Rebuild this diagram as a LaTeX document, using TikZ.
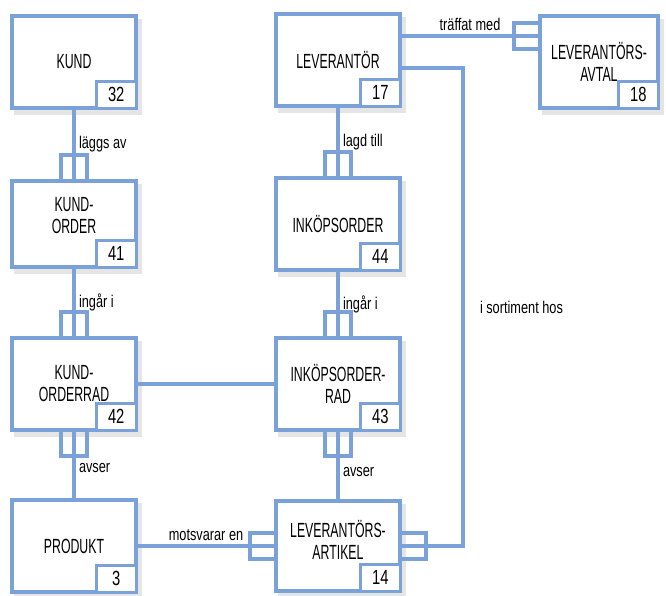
\documentclass[tikz,border=0pt]{standalone}
\usepackage{fontspec}
\setmainfont{Liberation Sans}[FakeStretch=0.6]
\newfontfamily\relfont{Liberation Sans}[FakeStretch=0.75]
\newfontfamily\numfont{Liberation Sans}[FakeStretch=0.72]
\definecolor{boxblue}{RGB}{122,162,216}

\tikzset{
  entity/.style={draw=boxblue, line width=4pt, fill=white,
    minimum width=124pt, minimum height=92pt, align=center,
    font=\fontsize{20.5}{22}\selectfont,
    preaction={draw=black!10, fill=black!10,
      transform canvas={xshift=4pt, yshift=-5pt}}},
  numbox/.style={draw=boxblue, line width=3.5pt, fill=white,
    minimum width=40pt, minimum height=27pt, inner sep=0pt,
    font=\numfont\fontsize{20.5}{21}\selectfont},
  link/.style={draw=boxblue, line width=4pt},
  rel/.style={font=\relfont\fontsize{17}{18}\selectfont, inner sep=3pt},
  crow/.pic={\draw[link] (-13,0) -- (-13,-24) -- (13,-24) -- (13,0);}
}

\begin{document}
\begin{tikzpicture}[x=1pt, y=-1pt]
\useasboundingbox (0,0) rectangle (666,595);

% entities
\node[entity] (kund) at (74,62) {KUND};
\node[entity, minimum height=86pt, text depth=18pt] (kundorder) at (74,224) {KUND-\\ORDER};
\node[entity] (kundorderrad) at (74,384) {KUND-\\ORDERRAD};
\node[entity] (produkt) at (74,546) {PRODUKT};
\node[entity] (leverantor) at (338,60) {LEVERANTÖR};
\node[entity] (inkopsorder) at (338,224) {INKÖPSORDER};
\node[entity] (inkopsorderrad) at (338,384) {INKÖPSORDER-\\RAD};
\node[entity, minimum height=90pt, text depth=12pt] (artikel) at (338,546) {LEVERANTÖRS-\\ARTIKEL};
\node[entity, minimum width=118pt] (avtal) at (599,62) {LEVERANTÖRS-\\AVTAL};

% numbers
\foreach \n/\v in {kund/32, kundorder/41, kundorderrad/42, produkt/3,
    leverantor/17, inkopsorder/44, inkopsorderrad/43, artikel/14, avtal/18}
  \node[numbox, anchor=south east] (\n-no) at (\n.south east) {\v};

% relations
\draw[link] (kund) -- (kundorder) node[rel, midway, right] {läggs av};
\path (kundorder.north) pic {crow};
\draw[link] (kundorder) -- (kundorderrad) node[rel, midway, right] {ingår i};
\path (kundorderrad.north) pic {crow};
\draw[link] (kundorderrad) -- (produkt) node[rel, pos=0.55, right] {avser};
\path (kundorderrad.south) pic[rotate=180] {crow};
\draw[link] (kundorderrad) -- (inkopsorderrad);
\draw[link] (produkt) -- (artikel) node[rel, midway, above] {motsvarar en};
\path (artikel.west) pic[rotate=90] {crow};

\draw[link] (leverantor) -- (inkopsorder) node[rel, midway, right] {lagd till};
\path (inkopsorder.north) pic {crow};
\draw[link] (inkopsorder) -- (inkopsorderrad) node[rel, midway, right] {ingår i};
\path (inkopsorderrad.north) pic {crow};
\draw[link] (inkopsorderrad) -- (artikel) node[rel, pos=0.6, right] {avser};
\path (inkopsorderrad.south) pic[rotate=180] {crow};

\coordinate (deal) at ([yshift=24pt]leverantor.east -| avtal.west);
\draw[link] ([yshift=24pt]leverantor.east) -- (deal)
  node[rel, midway, above] {träffat med};
\path (deal) pic[rotate=90] {crow};
\draw[link] ([yshift=-8pt]leverantor.east) -| ([xshift=61pt]artikel.east)
  node[rel, pos=0.75, right, xshift=12pt] {i sortiment hos} -- (artikel.east);
\path (artikel.east) pic[rotate=-90] {crow};
\end{tikzpicture}
\end{document}
